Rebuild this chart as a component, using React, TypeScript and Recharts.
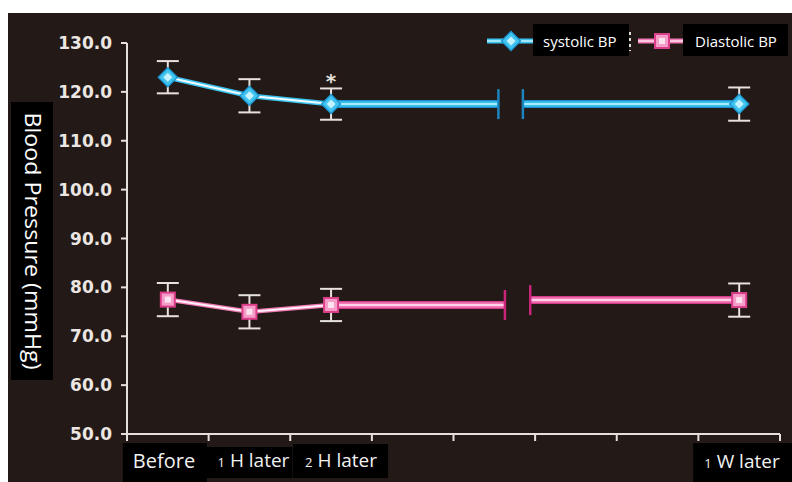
import React from 'react'
import { ComposedChart, Line, XAxis, YAxis, ErrorBar, LabelList } from 'recharts'

// time points (x = centre of each band on a 0..8 scale)
const categories = ['Before', '1 H later', '2 H later', '1 W later']
const catX = [0.5, 1.5, 2.5, 7.5]
const systolic = [123.0, 119.2, 117.5, 117.5]
const systolicErr = [3.3, 3.4, 3.2, 3.4]
const diastolic = [77.5, 75.0, 76.4, 77.4]
const diastolicErr = [3.4, 3.4, 3.3, 3.4]
const significance = ['', '', '*', '']
// axis break (start, end) on the x scale
const systolicBreak = [4.55, 4.85]
const diastolicBreak = [4.63, 4.94]
const yTicks = [50, 60, 70, 80, 90, 100, 110, 120, 130]
const xBands = [0, 1, 2, 3, 4, 5, 6, 7, 8]
const seriesNames = ['systolic BP', 'Diastolic BP']

const AXIS = '#e6e0dc'
const BG = '#231a17'

const points = categories.map((c, i) => ({
  x: catX[i],
  name: c,
  sys: systolic[i],
  sysErr: systolicErr[i],
  sysLink: i < 3 ? systolic[i] : null,
  dia: diastolic[i],
  diaErr: diastolicErr[i],
  diaLink: i < 3 ? diastolic[i] : null,
  sig: significance[i],
}))

const sysSeg1 = [{ x: catX[2], v: systolic[2] }, { x: systolicBreak[0], v: systolic[2] }]
const sysSeg2 = [{ x: systolicBreak[1], v: systolic[3] }, { x: catX[3], v: systolic[3] }]
const diaSeg1 = [{ x: catX[2], v: diastolic[2] }, { x: diastolicBreak[0], v: diastolic[2] }]
const diaSeg2 = [{ x: diastolicBreak[1], v: diastolic[3] }, { x: catX[3], v: diastolic[3] }]

// label boxes, offsets from the band centre
const labelBoxes = [
  { l: -45, r: 39, top: 443, bottom: 482, tx: -35, base: 468 },
  { l: -43, r: 43, top: 447, bottom: 478, tx: -32, base: 467 },
  { l: -38, r: 57, top: 444, bottom: 478, tx: -26, base: 467 },
  { l: -46, r: 53, top: 443, bottom: 482, tx: -35, base: 468 },
]

function XTick(props: any) {
  const { x, y, payload } = props
  const v = payload.value
  if (Number.isInteger(v)) {
    return <line x1={x} x2={x} y1={y} y2={y + 7} stroke={AXIS} strokeWidth={2} />
  }
  const i = catX.indexOf(v)
  if (i < 0) return <g />
  const b = labelBoxes[i]
  const label = categories[i]
  const m = label.match(/^(\d)\s(.*)$/)
  return (
    <g>
      <rect x={x + b.l} y={b.top} width={b.r - b.l} height={b.bottom - b.top} fill="#000" />
      {m ? (
        <text x={x + b.tx} y={b.base} fill="#f2f2f2" fontFamily="Open Sans" fontSize={19}>
          <tspan fontSize={13}>{m[1]}</tspan>
          <tspan dx={5}>{m[2]}</tspan>
        </text>
      ) : (
        <text x={x + b.tx} y={b.base} fill="#f2f2f2" fontFamily="Open Sans" fontSize={20}>{label}</text>
      )}
    </g>
  )
}

function Diamond(p: any) {
  const { cx, cy, index } = p
  if (cx == null || cy == null) return <g key={`d-${index}`} />
  const d = (w: number, h: number) => `M${cx},${cy - h} L${cx + w},${cy} L${cx},${cy + h} L${cx - w},${cy} Z`
  return (
    <g key={`d-${index}`}>
      <path d={d(10.5, 10.5)} fill="#1d97d2" />
      <path d={d(8.5, 8.5)} fill="#40c4f0" />
      <path d={d(4.5, 4.5)} fill="#c4f2ff" />
    </g>
  )
}

function Square(p: any) {
  const { cx, cy, index } = p
  if (cx == null || cy == null) return <g key={`s-${index}`} />
  return (
    <g key={`s-${index}`}>
      <rect x={cx - 8} y={cy - 8} width={16} height={16} fill="#dc3f8a" />
      <rect x={cx - 6} y={cy - 6} width={12} height={12} fill="#f59cc8" />
      <rect x={cx - 3} y={cy - 3} width={6} height={6} fill="#fde2ef" />
    </g>
  )
}

const breakDot = (color: string, which: number) => (p: any) =>
  p.index === which ? (
    <line key={`b-${p.index}`} x1={p.cx} x2={p.cx} y1={p.cy - 15} y2={p.cy + 15} stroke={color} strokeWidth={2.5} />
  ) : (
    <g key={`b-${p.index}`} />
  )

function SigLabel(props: any) {
  const { x, y, value } = props
  if (!value) return null
  return (
    <text x={x} y={y - 16} textAnchor="middle" fill="#e6e0dc" fontFamily="DejaVu Sans" fontWeight="bold" fontSize={20}>
      {value}
    </text>
  )
}

function segment(data: any[], key: string, colors: string[], dotColor: string, which: number) {
  return [
    <Line key={`${key}-a`} data={data} dataKey="v" stroke={colors[0]} strokeWidth={8} dot={false} isAnimationActive={false} />,
    <Line key={`${key}-b`} data={data} dataKey="v" stroke={colors[1]} strokeWidth={5.5} dot={false} isAnimationActive={false} />,
    <Line key={`${key}-c`} data={data} dataKey="v" stroke={colors[2]} strokeWidth={2} dot={breakDot(dotColor, which)} isAnimationActive={false} />,
  ]
}

const sysColors = ['#1d8fc8', '#3cc4f0', '#a6ebff']
const diaColors = ['#d43a89', '#f27cb8', '#ffd2e8']

export default function App() {
  return (
    <div style={{ position: 'absolute', left: 0, top: 0, width: 792, height: 482, background: '#fff', overflow: 'hidden' }}>
      <div style={{ position: 'absolute', left: 8, top: 13, width: 784, height: 469, background: BG }} />
      <div style={{ position: 'absolute', left: 0, top: 0 }}>
        <ComposedChart width={792} height={482} margin={{ top: 43, right: 12, bottom: 0, left: 57 }}>
          <XAxis
            type="number"
            dataKey="x"
            domain={[0, 8]}
            ticks={[...xBands, ...catX].sort((a, b) => a - b)}
            interval={0}
            allowDecimals
            tickSize={0}
            tickMargin={0}
            tickLine={false}
            axisLine={{ stroke: AXIS, strokeWidth: 2 }}
            tick={<XTick />}
            height={48}
          />
          <YAxis
            type="number"
            domain={[50, 130]}
            ticks={yTicks}
            interval={0}
            width={70}
            tickFormatter={(v: number) => v.toFixed(1)}
            tick={{ fill: '#ece6e2', fontSize: 17, fontFamily: 'DejaVu Sans', fontWeight: 'bold' }}
            tickSize={6}
            tickMargin={9}
            axisLine={{ stroke: AXIS, strokeWidth: 2 }}
            tickLine={{ stroke: AXIS, strokeWidth: 2 }}
          />
          {segment(sysSeg1, 'ss1', sysColors, '#1b84bf', 1)}
          {segment(sysSeg2, 'ss2', sysColors, '#1b84bf', 0)}
          {segment(diaSeg1, 'ds1', diaColors, '#c8247a', 1)}
          {segment(diaSeg2, 'ds2', diaColors, '#c8247a', 0)}
          <Line data={points} dataKey="sysLink" stroke="#3cc4f0" strokeWidth={5} dot={false} isAnimationActive={false} />
          <Line data={points} dataKey="sysLink" stroke="#f2fbff" strokeWidth={2} dot={false} isAnimationActive={false} />
          <Line data={points} dataKey="diaLink" stroke="#f07ab6" strokeWidth={4.5} dot={false} isAnimationActive={false} />
          <Line data={points} dataKey="diaLink" stroke="#fff0f6" strokeWidth={2} dot={false} isAnimationActive={false} />
          <Line data={points} dataKey="sys" name={seriesNames[0]} stroke="none" dot={Diamond} isAnimationActive={false}>
            <ErrorBar dataKey="sysErr" direction="y" width={11} stroke="#e8e2de" strokeWidth={2} />
            <LabelList dataKey="sig" content={<SigLabel />} />
          </Line>
          <Line data={points} dataKey="dia" name={seriesNames[1]} stroke="none" dot={Square} isAnimationActive={false}>
            <ErrorBar dataKey="diaErr" direction="y" width={11} stroke="#e8e2de" strokeWidth={2} />
          </Line>
        </ComposedChart>
      </div>
      <svg width={792} height={482} style={{ position: 'absolute', left: 0, top: 0, pointerEvents: 'none' }}>
        {/* y-axis title */}
        <rect x={11} y={102} width={42} height={278} fill="#000" />
        <text transform="translate(25,241) rotate(90)" textAnchor="middle" fill="#fff" fontFamily="Open Sans" fontSize={21}
          textLength={257} lengthAdjust="spacingAndGlyphs">
          Blood Pressure (mmHg)
        </text>
        {/* legend */}
        <line x1={487} x2={533} y1={41} y2={41} stroke="#3cc4f0" strokeWidth={5} />
        <line x1={487} x2={533} y1={41} y2={41} stroke="#c4f2ff" strokeWidth={1.5} />
        <Diamond cx={511} cy={41} index="lg1" />
        <rect x={533} y={24} width={96} height={32} fill="#000" />
        <text x={543} y={47} fill="#fff" fontFamily="Open Sans" fontSize={15}>{seriesNames[0]}</text>
        <line x1={630} x2={630} y1={32} y2={51} stroke="#ddd" strokeWidth={2} strokeDasharray="3 3" />
        <line x1={638} x2={683} y1={41} y2={41} stroke="#f07ab6" strokeWidth={5} />
        <line x1={638} x2={683} y1={41} y2={41} stroke="#ffe0ee" strokeWidth={1.5} />
        <Square cx={662} cy={41} index="lg2" />
        <rect x={683} y={24} width={105} height={32} fill="#000" />
        <text x={695} y={47} fill="#fff" fontFamily="Open Sans" fontSize={15}>{seriesNames[1]}</text>
      </svg>
    </div>
  )
}
